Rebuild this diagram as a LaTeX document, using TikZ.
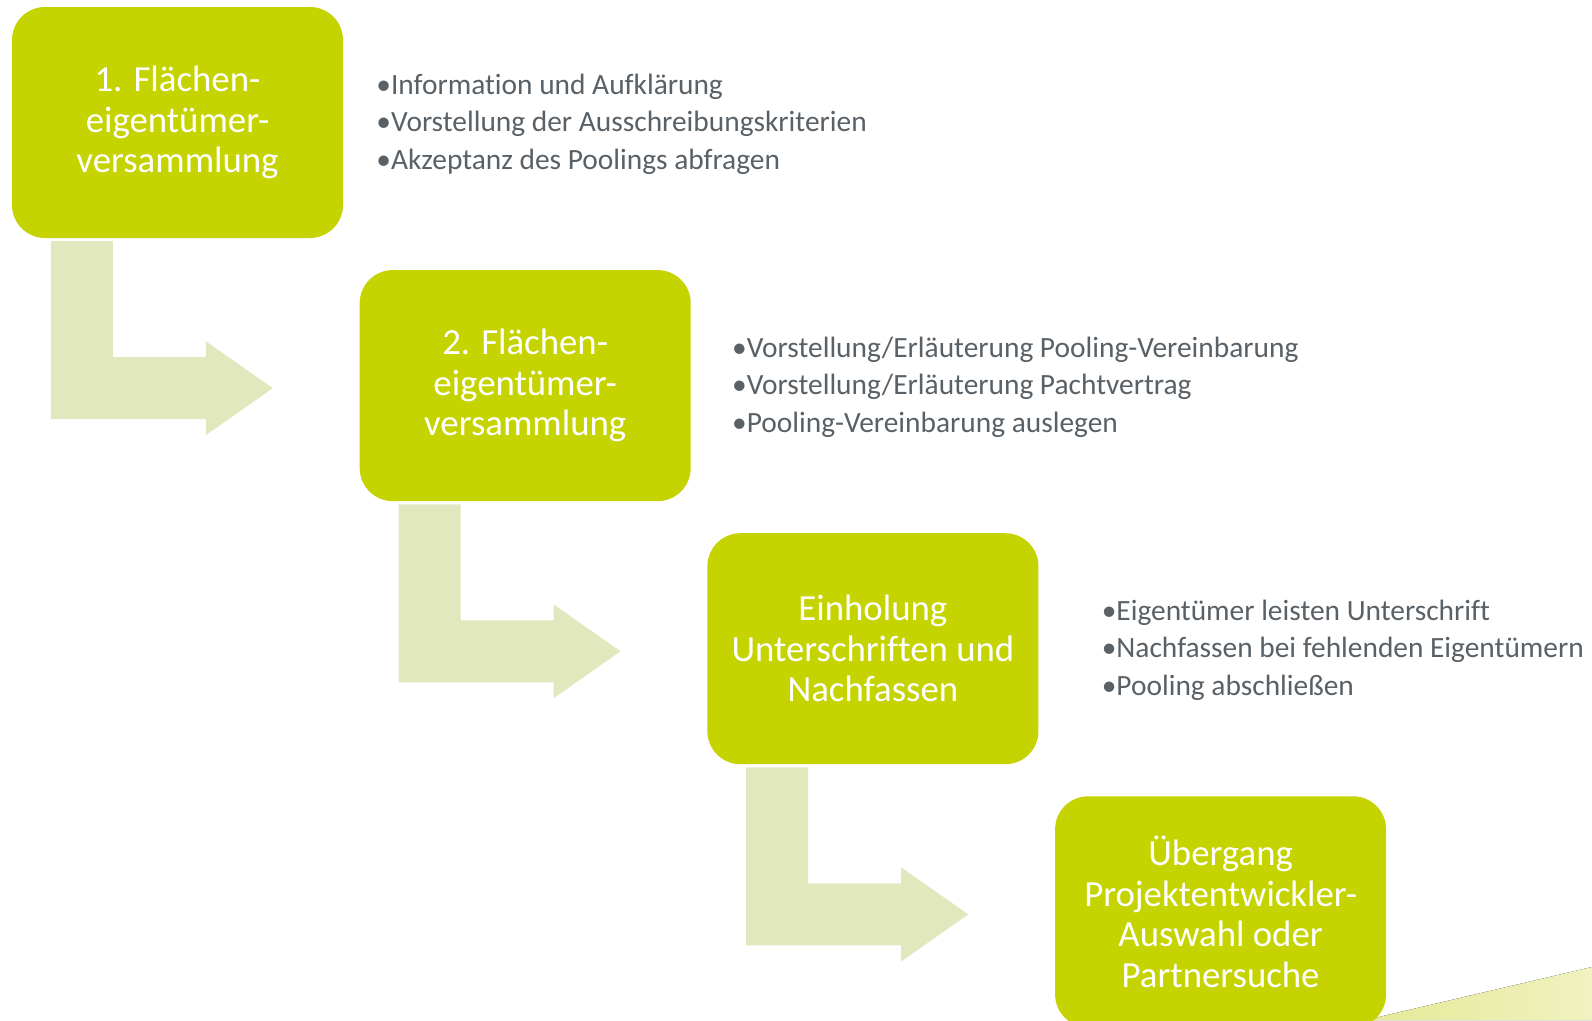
\documentclass[tikz,border=0pt]{standalone}
\usepackage{fontspec}
\setmainfont{Carlito}[Ligatures=NoCommon]
\usetikzlibrary{positioning}

\definecolor{kastengruen}{RGB}{197,211,0}
\definecolor{pfeilgruen}{RGB}{226,232,189}
\definecolor{textgrau}{RGB}{89,97,103}
\definecolor{keillinks}{RGB}{229,233,150}
\definecolor{keilrechts}{RGB}{240,242,192}

\tikzset{
  kasten/.style={fill=kastengruen, rounded corners=33pt, minimum width=331pt,
    minimum height=231pt, inner sep=0pt, text=white, align=center,
    font=\fontsize{36.8}{40.5}\selectfont},
  punkte/.style={align=left, inner sep=0pt, text=textgrau,
    font=\fontsize{29.4}{37.6}\selectfont},
  pfeil/.style={fill=pfeilgruen},
}

\begin{document}
\begin{tikzpicture}[x=1pt,y=-1pt]
    \fill[white] (0,0) rectangle (1592,1020);
    \useasboundingbox (0,0) rectangle (1592,1020);
    % Keil unten rechts
    \fill[left color=keillinks, right color=keilrechts] (1366,1020) -- (1592,967) -- (1592,1020) -- cycle;

    \node[kasten] (k1) at (177.5,122.5) {1. Flächen-\\eigentümer-\\versammlung};
    \node[kasten, below right=31.7pt and 16.3pt of k1] (k2) {2. Flächen-\\eigentümer-\\versammlung};
    \node[kasten, below right=31.7pt and 16.3pt of k2] (k3) {Einholung\\Unterschriften und\\Nachfassen};
    \node[kasten, below right=31.7pt and 16.3pt of k3] (k4) {Übergang\\Projektentwickler-\\Auswahl oder\\Partnersuche};

    \node[punkte, right=33pt of k1, yshift=-1.5pt] (p1) {•Information und Aufklärung\\•Vorstellung der Ausschreibungskriterien\\•Akzeptanz des Poolings abfragen};
    \node[punkte, right=41pt of k2, yshift=-1.5pt] (p2) {•Vorstellung/Erläuterung Pooling-Vereinbarung\\•Vorstellung/Erläuterung Pachtvertrag\\•Pooling-Vereinbarung auslegen};
    \node[punkte, right=63pt of k3, yshift=-1.5pt] (p3) {•Eigentümer leisten Unterschrift\\•Nachfassen bei fehlenden Eigentümern\\•Pooling abschließen};

    % Winkelpfeile zwischen den Kaesten
    \foreach \k in {k1,k2,k3}
        \fill[pfeil, shift={(\k.south west)}] (39,3) -- (101,3) -- (101,119) -- (194,119) -- (194,103)
            -- (261,150) -- (194,197) -- (194,181) -- (39,181) -- cycle;
\end{tikzpicture}
\end{document}
